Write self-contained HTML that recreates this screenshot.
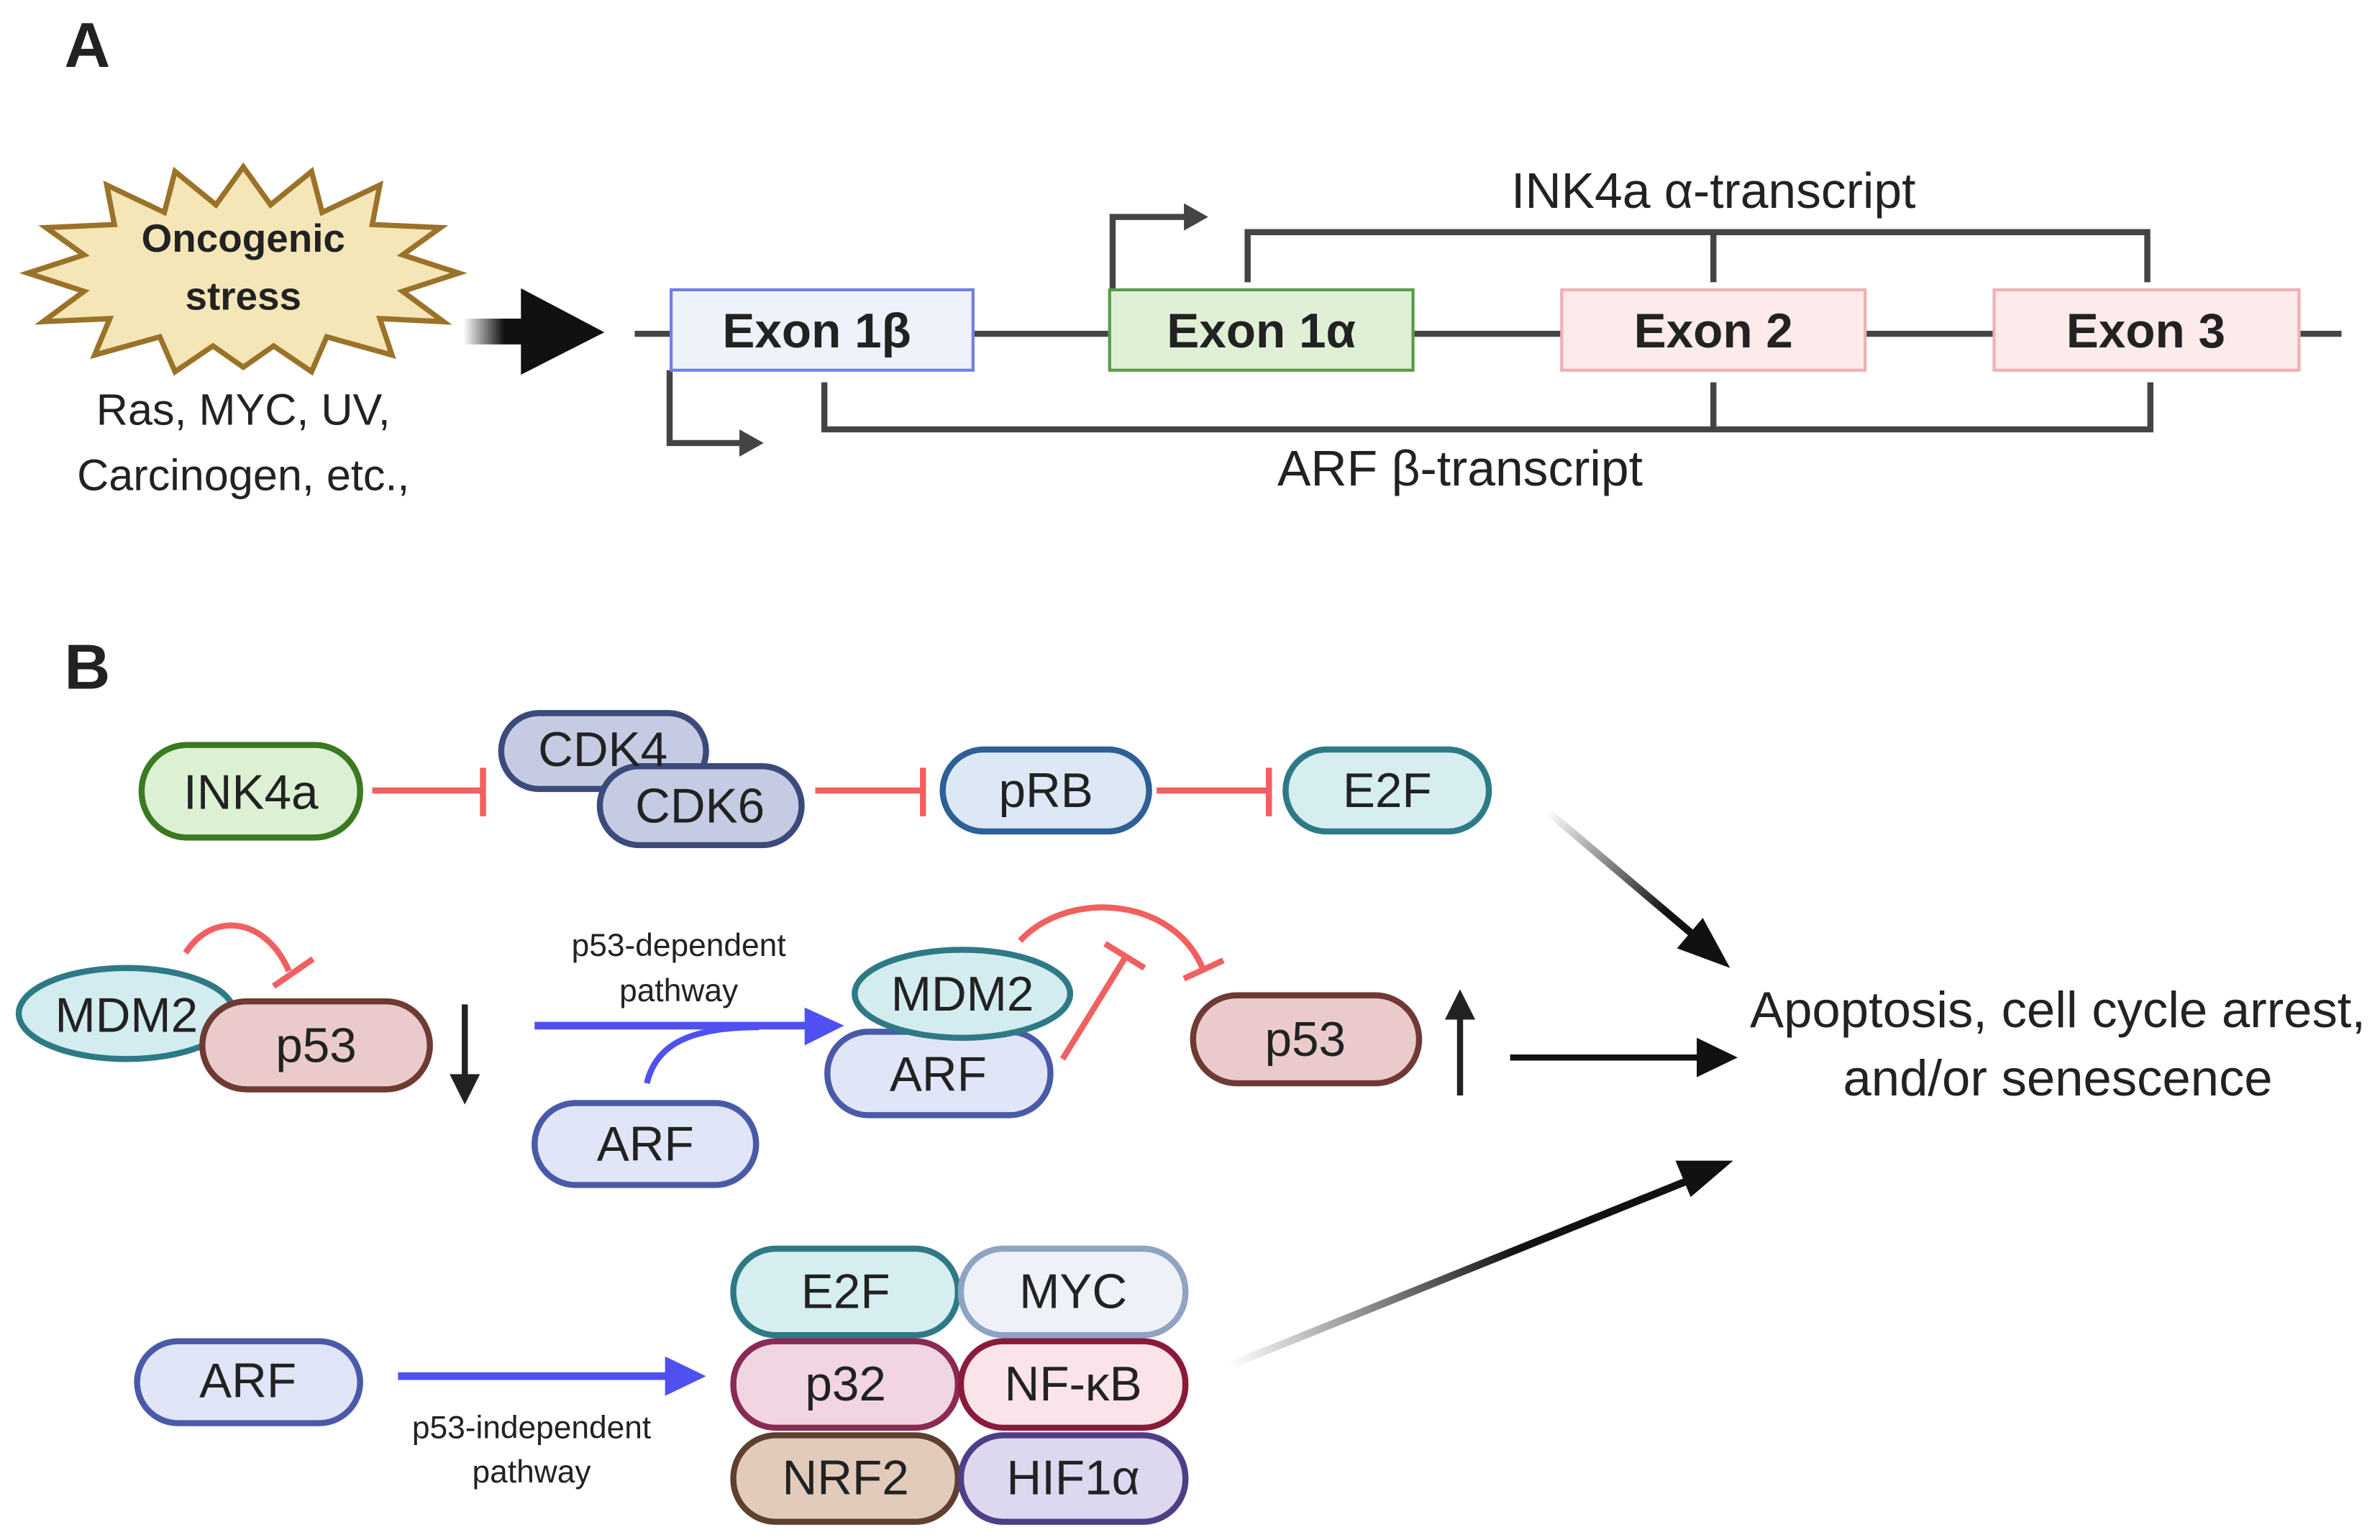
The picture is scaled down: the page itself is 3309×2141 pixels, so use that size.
<!DOCTYPE html>
<html><head><meta charset="utf-8"><style>
html,body{margin:0;padding:0;background:#fff}
svg{display:block}
text{font-family:"Liberation Sans",sans-serif;fill:#222}
</style></head><body>
<svg width="3309" height="2141" viewBox="0 0 1568 1015" xmlns="http://www.w3.org/2000/svg">
<defs>
<linearGradient id="ga" x1="0" x2="1" y1="0" y2="0"><stop offset="0" stop-color="#fff"/><stop offset="0.6" stop-color="#111"/></linearGradient>
<linearGradient id="g1" gradientUnits="userSpaceOnUse" x1="1020" y1="535" x2="1100" y2="600"><stop offset="0" stop-color="#fff"/><stop offset="1" stop-color="#111"/></linearGradient>
<linearGradient id="g2" gradientUnits="userSpaceOnUse" x1="810" y1="900" x2="1000" y2="825"><stop offset="0" stop-color="#fff"/><stop offset="1" stop-color="#111"/></linearGradient>
</defs>
<text x="42" y="44" font-size="42" font-weight="bold">A</text>
<text x="42" y="454" font-size="42" font-weight="bold">B</text>
<polygon points="160,110 178,135 205,113 212,140 250,122 245,148 290,150 265,168 302,180 265,192 292,212 250,210 258,234 215,222 205,245 180,228 160,242 140,228 115,245 105,222 62,234 72,210 28,212 55,192 18,180 55,168 30,150 75,148 70,122 108,140 115,113 142,135" fill="#f5e6b8" stroke="#9a7228" stroke-width="3.5"/>
<text x="160" y="166" font-size="26" font-weight="bold" text-anchor="middle">Oncogenic</text>
<text x="160" y="204" font-size="26" font-weight="bold" text-anchor="middle">stress</text>
<text x="160" y="280" font-size="29" text-anchor="middle" fill="#333">Ras, MYC, UV,</text>
<text x="160" y="323" font-size="29" text-anchor="middle" fill="#333">Carcinogen, etc.,</text>
<rect x="305" y="210" width="45" height="17" fill="url(#ga)"/>
<polygon points="343,190 398,219 343,247" fill="#111"/>
<line x1="418" y1="220" x2="1543" y2="220" stroke="#444" stroke-width="4"/>
<g stroke="#444" stroke-width="4" fill="none">
<polyline points="733,191 733,143 785,143"/>
<polyline points="441,244 441,292 490,292"/>
<polyline points="822,186 822,153 1415,153 1415,186"/>
<line x1="1129" y1="153" x2="1129" y2="186"/>
<polyline points="543,252 543,283 1417,283 1417,252"/>
<line x1="1129" y1="252" x2="1129" y2="283"/>
</g>
<polygon points="780,134 796,143 780,152" fill="#444"/>
<polygon points="487,283 503,292 487,301" fill="#444"/>
<rect x="442" y="191" width="199" height="53" fill="#eef3fb" stroke="#7080e0" stroke-width="2"/>
<rect x="731" y="191" width="200" height="53" fill="#dff0d6" stroke="#5a9a48" stroke-width="2"/>
<rect x="1029" y="191" width="200" height="53" fill="#fdeaeb" stroke="#efb0b5" stroke-width="2"/>
<rect x="1314" y="191" width="201" height="53" fill="#fdeaeb" stroke="#efb0b5" stroke-width="2"/>
<g font-size="32" font-weight="bold" text-anchor="middle">
<text x="538" y="229">Exon 1β</text><text x="831" y="229">Exon 1α</text><text x="1129" y="229">Exon 2</text><text x="1414" y="229">Exon 3</text>
</g>
<text x="1129" y="137" font-size="33" text-anchor="middle" fill="#333">INK4a α-transcript</text>
<text x="962" y="320" font-size="33" text-anchor="middle" fill="#333">ARF β-transcript</text>
<g stroke-width="4">
<rect x="93" y="491" width="144" height="61" rx="30" fill="#dcf1d3" stroke="#3a7a20"/>
<rect x="330" y="470" width="135" height="50" rx="25" fill="#c5cbe3" stroke="#3b4a7a"/>
<rect x="395" y="505" width="133" height="52" rx="26" fill="#c5cbe3" stroke="#3b4a7a"/>
<rect x="621" y="494" width="136" height="54" rx="27" fill="#dce8f5" stroke="#2e5f95"/>
<rect x="847" y="494" width="134" height="54" rx="27" fill="#d6eef0" stroke="#2d7a86"/>
</g>
<g font-size="32" text-anchor="middle">
<text x="165" y="533">INK4a</text><text x="397" y="505">CDK4</text><text x="461" y="542">CDK6</text><text x="689" y="532">pRB</text><text x="914" y="532">E2F</text>
</g>
<g stroke="#f06060" stroke-width="4" fill="none">
<line x1="245" y1="521" x2="318" y2="521"/><line x1="318" y1="506" x2="318" y2="538"/>
<line x1="537" y1="521" x2="608" y2="521"/><line x1="608" y1="506" x2="608" y2="538"/>
<line x1="762" y1="521" x2="836" y2="521"/><line x1="836" y1="506" x2="836" y2="538"/>
</g>
<line x1="1020" y1="535" x2="1125" y2="624" stroke="url(#g1)" stroke-width="5"/>
<polygon points="1140,638 1105,625 1122,605" fill="#111"/>
<path d="M122,628 C140,600 175,605 190,640" stroke="#f06060" stroke-width="4" fill="none"/>
<line x1="180" y1="650" x2="206" y2="632" stroke="#f06060" stroke-width="4"/>
<g stroke-width="4">
<ellipse cx="83" cy="668" rx="71" ry="30" fill="#d3ecef" stroke="#2d7a86"/>
<rect x="133" y="660" width="150" height="58" rx="29" fill="#eacaca" stroke="#6e3a33"/>
<rect x="352" y="727" width="146" height="54" rx="27" fill="#e0e6f8" stroke="#4a5aa8"/>
<rect x="545" y="680" width="147" height="55" rx="27" fill="#e0e6f8" stroke="#4a5aa8"/>
<ellipse cx="634" cy="655" rx="71" ry="29" fill="#d3ecef" stroke="#2d7a86"/>
<rect x="786" y="656" width="149" height="58" rx="29" fill="#eacaca" stroke="#6e3a33"/>
</g>
<g font-size="32" text-anchor="middle">
<text x="83" y="680">MDM2</text><text x="208" y="700">p53</text><text x="425" y="765">ARF</text><text x="618" y="719">ARF</text><text x="634" y="666">MDM2</text><text x="860" y="696">p53</text>
</g>
<line x1="306" y1="662" x2="306" y2="715" stroke="#222" stroke-width="4"/>
<polygon points="296,708 316,708 306,728" fill="#222"/>
<line x1="962" y1="722" x2="962" y2="665" stroke="#222" stroke-width="4"/>
<polygon points="952,672 972,672 962,652" fill="#222"/>
<text x="447" y="630" font-size="21" text-anchor="middle" fill="#555">p53-dependent</text>
<text x="447" y="660" font-size="21" text-anchor="middle" fill="#555">pathway</text>
<line x1="352" y1="676" x2="535" y2="676" stroke="#5050f0" stroke-width="5"/>
<path d="M426,714 C432,688 455,677 500,677" stroke="#5050f0" stroke-width="4" fill="none"/>
<polygon points="530,664 556,676 530,689" fill="#5050f0"/>
<path d="M672,620 C705,585 775,592 793,640" stroke="#f06060" stroke-width="4" fill="none"/>
<line x1="780" y1="645" x2="806" y2="633" stroke="#f06060" stroke-width="4"/>
<line x1="700" y1="698" x2="742" y2="630" stroke="#f06060" stroke-width="4"/>
<line x1="728" y1="622" x2="754" y2="638" stroke="#f06060" stroke-width="4"/>
<line x1="995" y1="697" x2="1125" y2="697" stroke="#111" stroke-width="4"/>
<polygon points="1118,684 1145,697 1118,710" fill="#111"/>
<text x="1356" y="677" font-size="33.5" text-anchor="middle">Apoptosis, cell cycle arrest,</text>
<text x="1356" y="722" font-size="33.5" text-anchor="middle">and/or senescence</text>
<rect x="90" y="884" width="147" height="54" rx="27" fill="#e0e6f8" stroke="#4a5aa8" stroke-width="4"/>
<text x="163" y="921" font-size="32" text-anchor="middle">ARF</text>
<line x1="262" y1="907" x2="442" y2="907" stroke="#5050f0" stroke-width="5"/>
<polygon points="438,894 465,907 438,920" fill="#5050f0"/>
<text x="350" y="948" font-size="21" text-anchor="middle" fill="#555">p53-independent</text>
<text x="350" y="977" font-size="21" text-anchor="middle" fill="#555">pathway</text>
<g stroke-width="4">
<rect x="483" y="823" width="148" height="57" rx="28" fill="#d6eef0" stroke="#2d7a86"/>
<rect x="633" y="823" width="148" height="57" rx="28" fill="#eef2f8" stroke="#8fa3c3"/>
<rect x="483" y="884" width="148" height="57" rx="28" fill="#f1d5e2" stroke="#8a2a55"/>
<rect x="633" y="884" width="148" height="57" rx="28" fill="#fbe4e9" stroke="#8a1a3a"/>
<rect x="483" y="946" width="148" height="57" rx="28" fill="#e2cbbb" stroke="#5e4030"/>
<rect x="633" y="946" width="148" height="57" rx="28" fill="#ddd8ef" stroke="#4e3e85"/>
</g>
<g font-size="32" text-anchor="middle">
<text x="557" y="862">E2F</text><text x="707" y="862">MYC</text><text x="557" y="923">p32</text><text x="707" y="923">NF-κB</text><text x="557" y="985">NRF2</text><text x="707" y="985">HIF1α</text>
</g>
<line x1="810" y1="900" x2="1120" y2="775" stroke="url(#g2)" stroke-width="5"/>
<polygon points="1142,765 1114,789 1104,765" fill="#111"/>
</svg>
</body></html>
